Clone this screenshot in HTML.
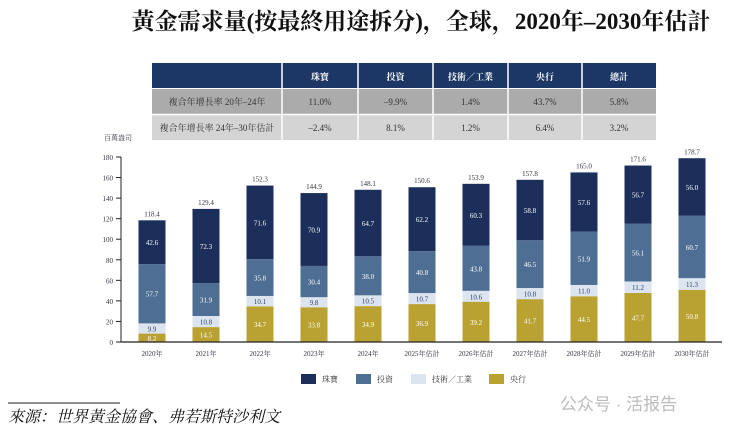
<!DOCTYPE html>
<html><head><meta charset="utf-8"><style>
body{margin:0;width:734px;height:432px;background:#fff;overflow:hidden;font-family:"Liberation Serif","Noto Serif CJK SC",serif;}
</style></head><body>
<svg width="734" height="432" xmlns="http://www.w3.org/2000/svg">
<text x="421" y="29" text-anchor="middle" font-size="23" font-weight="bold" fill="#111" font-family="Liberation Serif,Noto Serif CJK SC,serif">黃金需求量(按最終用途拆分)，全球，2020年–2030年估計</text>
<g id="table"></g>
<text x="104" y="140" font-size="7" fill="#334">百萬盎司</text>
<g id="plot"></g>
<g id="legend"></g>
<line x1="8" y1="403" x2="120" y2="403" stroke="#222" stroke-width="1"/>
<text x="8" y="422" font-size="16" font-style="italic" fill="#111">來源：世界黃金協會、弗若斯特沙利文</text>
<text x="560" y="410" font-size="17" fill="#bbb" font-family="Liberation Sans,Noto Sans CJK SC,sans-serif">公众号 · 活报告</text>
</svg>
<script>
const categories=["2020年","2021年","2022年","2023年","2024年","2025年估計","2026年估計","2027年估計","2028年估計","2029年估計","2030年估計"];
const centralBank=[8.2,14.5,34.7,33.8,34.9,36.9,39.2,41.7,44.5,47.7,50.8];
const techIndustry=[9.9,10.8,10.1,9.8,10.5,10.7,10.6,10.8,11.0,11.2,11.3];
const investment=[57.7,31.9,35.8,30.4,38.0,40.8,43.8,46.5,51.9,56.1,60.7];
const jewellery=[42.6,72.3,71.6,70.9,64.7,62.2,60.3,58.8,57.6,56.7,56.0];
const totals=[118.4,129.4,152.3,144.9,148.1,150.6,153.9,157.8,165.0,171.6,178.7];
const yTicks=[0,20,40,60,80,100,120,140,160,180];
const tableHeaders=["珠寶","投資","技術／工業","央行","總計"];
const tableRows=[["複合年增長率 20年–24年","11.0%","–9.9%","1.4%","43.7%","5.8%"],["複合年增長率 24年–30年估計","–2.4%","8.1%","1.2%","6.4%","3.2%"]];
const NS="http://www.w3.org/2000/svg";
function mk(t,a,p,txt){const e=document.createElementNS(NS,t);for(const k in a)e.setAttribute(k,a[k]);if(txt!==undefined)e.textContent=txt;p.appendChild(e);return e;}
const tb=document.getElementById('table');
const colX=[152,282,358,433,508,582,656];
let r=mk('rect',{x:152,y:63,width:504,height:25,fill:'#1c3766'},tb);

tableRows.forEach((row,ri)=>{const y=89+ri*26;
let bg=mk('rect',{x:152,y:y,width:504,height:25,fill:ri?'#d4d4d4':'#ababab'},tb);

row.forEach((c,ci)=>{let t=mk('text',{x:(colX[ci]+colX[ci+1])/2,y:y+16,'text-anchor':'middle','font-size':9,fill:'#333'},tb,c);
});});
tableHeaders.forEach((h,i)=>{let t=mk('text',{x:(colX[i+1]+colX[i+2])/2,y:80,'text-anchor':'middle','font-size':9,'font-weight':'bold',fill:'#fff'},tb,h);
});
[282,358,433,508,582].forEach(x=>{let l=mk('line',{x1:x,y1:63,x2:x,y2:140,stroke:'#fff','stroke-width':1.5},tb);
});
let hl=mk('line',{x1:152,y1:114.5,x2:656,y2:114.5,stroke:'#fff','stroke-width':1.5},tb);

const p=document.getElementById('plot');
const y0=342,yTop=157,xAxis=121;
const yS=v=>y0-(v/180)*(y0-yTop);
const xS=i=>152+i*54;
const bw=27;
yTicks.forEach(v=>{let t=mk('text',{x:xAxis-8,y:yS(v)+3,'text-anchor':'end','font-size':7,fill:'#334'},p,v);

let tk=mk('line',{x1:xAxis-5,y1:yS(v),x2:xAxis,y2:yS(v),stroke:'#222','stroke-width':1},p);
});
let ya=mk('line',{x1:xAxis,y1:yTop,x2:xAxis,y2:y0,stroke:'#222','stroke-width':1},p);

const series=[[centralBank,'#b9a232','#fff','central-bank'],[techIndustry,'#dce5ef','#2a3d6a','tech-industry'],[investment,'#4e6e93','#fff','investment'],[jewellery,'#1b2f5a','#fff','jewellery']];
categories.forEach((c,i)=>{let base=0;
series.forEach(([arr,col,tc,nm])=>{const v=arr[i];
let b=mk('rect',{x:xS(i)-bw/2,y:yS(base+v),width:bw,height:yS(base)-yS(base+v),fill:col},p);

let t=mk('text',{x:xS(i),y:(yS(base)+yS(base+v))/2+3,'text-anchor':'middle','font-size':7,fill:tc},p,v.toFixed(1));

base+=v;});
let tt=mk('text',{x:xS(i),y:yS(totals[i])-4,'text-anchor':'middle','font-size':7,fill:'#334'},p,totals[i].toFixed(1));

let xl=mk('text',{x:xS(i),y:y0+14,'text-anchor':'middle','font-size':7,fill:'#334'},p,c);
});
let xa=mk('line',{x1:xAxis,y1:y0,x2:722,y2:y0,stroke:'#222','stroke-width':1.2},p);

const lg=document.getElementById('legend');
const legItems=[['珠寶','#1b2f5a',301],['投資','#4e6e93',356],['技術／工業','#dce5ef',411],['央行','#b9a232',489]];
legItems.forEach(([n,c,x])=>{let s=mk('rect',{x:x,y:374,width:15,height:10,fill:c},lg);

let t=mk('text',{x:x+21,y:382,'font-size':8,fill:'#333'},lg,n);
});
</script>
</body></html>
